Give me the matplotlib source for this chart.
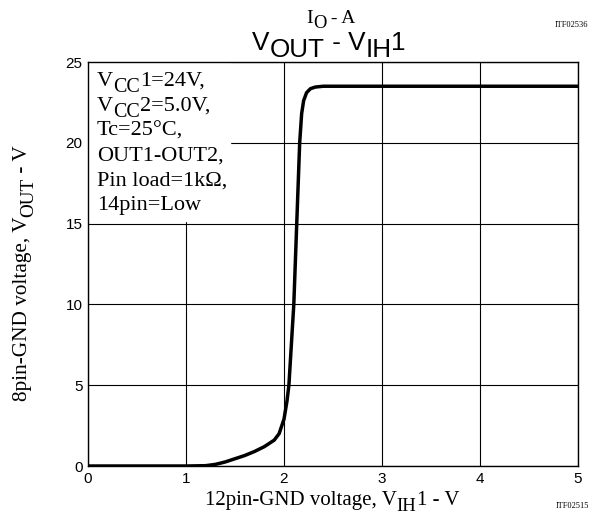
import matplotlib
matplotlib.use("Agg")
import matplotlib.pyplot as plt
from matplotlib.font_manager import FontProperties
from matplotlib.transforms import IdentityTransform

# curva V_OUT frente a V_IH1
v_ih = [0.0, 1.0, 1.2, 1.3, 1.4, 1.5, 1.6, 1.7, 1.8, 1.9, 1.95, 2.0, 2.03, 2.05,
        2.1, 2.13, 2.16, 2.18, 2.2, 2.23, 2.27, 2.32, 2.4, 2.5, 5.0]
v_out = [0.0, 0.0, 0.02, 0.1, 0.25, 0.45, 0.65, 0.9, 1.2, 1.6, 2.0, 2.9, 4.0, 5.0,
         10.0, 15.0, 20.0, 21.8, 22.6, 23.1, 23.35, 23.45, 23.5, 23.5, 23.5]

x_ticks = [0, 1, 2, 3, 4, 5]
y_ticks = [0, 5, 10, 15, 20, 25]

# texto con subindices: (cadena, es_subindice)
condiciones = [
    [('V', False), ('CC', True), ('1=24V,', False)],
    [('V', False), ('CC', True), ('2=5.0V,', False)],
    [('Tc=25°C,', False)],
    [('OUT1-OUT2,', False)],
    [('Pin load=1kΩ,', False)],
    [('14pin=Low', False)],
]
titulo_sup = [('I', False), ('O', True), (' - A', False)]
titulo = [('V', False), ('OUT', True), (' - V', False), ('IH', True), ('1', False)]
etiqueta_x = [('12pin-GND voltage, V', False), ('IH', True), ('1 - V', False)]
etiqueta_y = [('8pin-GND voltage, V', False), ('OUT', True), (' - V', False)]

fig = plt.figure(figsize=(6.05, 5.22), dpi=100)
renderer = fig.canvas.get_renderer()


def ancho(s, prop):
    # el truco de las barras mantiene los espacios al principio y al final
    w1 = renderer.get_text_width_height_descent('|' + s + '|', prop, ismath=False)[0]
    w0 = renderer.get_text_width_height_descent('||', prop, ismath=False)[0]
    return w1 - w0


def texto_sub(x, y, partes, size, family, ha='center', rot=0, sub_scale=0.9):
    """Dibuja texto con subindices casi del mismo tamano (x, y en pixeles, y = linea base)."""
    px = size * fig.dpi / 72.0
    props = [FontProperties(family=family, size=size * (sub_scale if es_sub else 1.0))
             for _, es_sub in partes]
    anchos = [ancho(s, p) for (s, _), p in zip(partes, props)]
    total = sum(anchos)
    pos = -total / 2 if ha == 'center' else 0.0
    for (s, es_sub), p, w in zip(partes, props, anchos):
        desp = 0.28 * px if es_sub else 0.0
        if rot == 0:
            xx, yy = x + pos, y - desp
        else:
            xx, yy = x + desp, y + pos
        fig.text(xx, yy, s, fontproperties=p, transform=IdentityTransform(),
                 rotation=rot, rotation_mode='anchor', ha='left', va='baseline')
        pos += w


ax = fig.add_axes([88 / 605, 56 / 522, 490 / 605, 404 / 522])

ax.plot(v_ih, v_out, color='black', lw=2.5, solid_capstyle='round', zorder=4)

ax.set_xlim(0, 5)
ax.set_ylim(0, 25)
ax.set_xticks(x_ticks)
ax.set_yticks(y_ticks)
ax.tick_params(length=0, labelsize=11, pad=4)
for lbl in ax.get_xticklabels() + ax.get_yticklabels():
    lbl.set_family('Liberation Sans')
ax.grid(True, color='black', lw=0.8, zorder=1)
for s in ax.spines.values():
    s.set_linewidth(1.0)

# caja de condiciones (tapa la rejilla)
ax.fill_between([0, 1.45], 15.15, 25, color='white', zorder=2)

for i, linea in enumerate(condiciones):
    texto_sub(97, 522 - 86 - i * 24.8, linea, 16, 'Liberation Serif', ha='left')

texto_sub(332, 17, etiqueta_x, 15, 'Liberation Serif')
texto_sub(27, 249, etiqueta_y, 15.3, 'Liberation Serif', rot=90)

texto_sub(331, 499, titulo_sup, 14, 'Liberation Serif', sub_scale=0.95)
texto_sub(329, 472, titulo, 18.8, 'Liberation Sans', sub_scale=1.0)

fig.text(0.945, 0.952, 'ITF02536', family='Liberation Serif', fontsize=6, ha='center',
         va='center')
fig.text(0.947, 0.031, 'ITF02515', family='Liberation Serif', fontsize=6, ha='center',
         va='center')

fig.savefig('out.png', dpi=100)
